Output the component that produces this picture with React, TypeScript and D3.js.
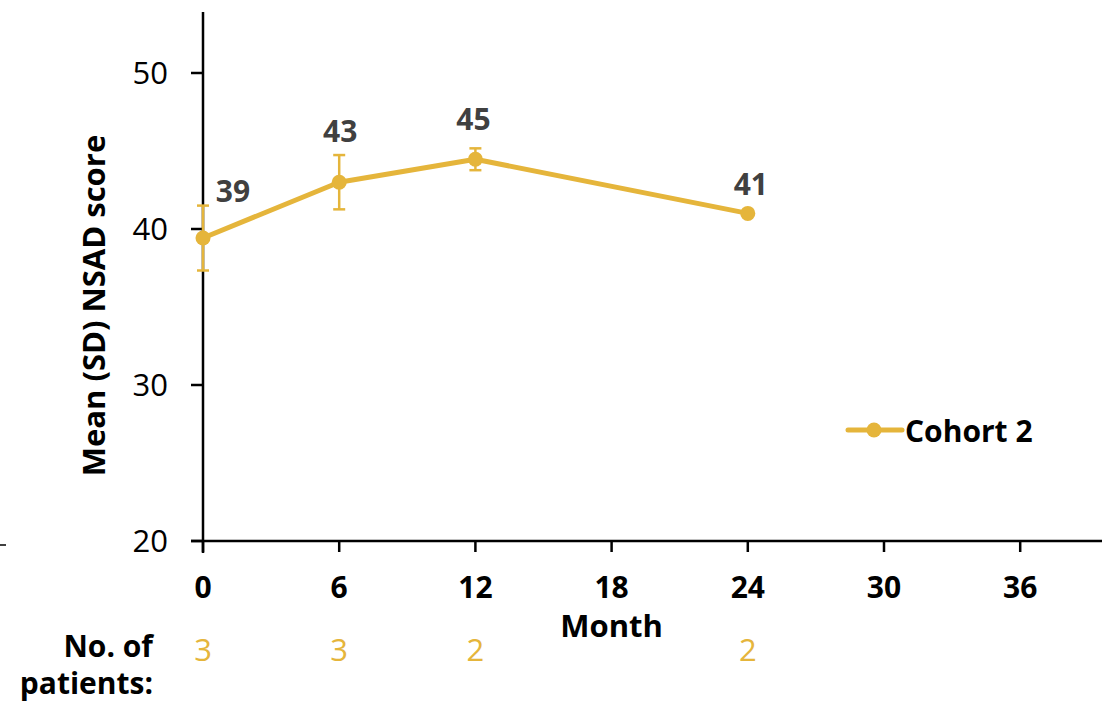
import React from "react";
import * as d3 from "d3";

// NSAD score over time, Cohort 2
const months = [0, 6, 12, 24];
const meanScores = [39.42, 43.0, 44.47, 41.0];
const sdScores = [2.08, 1.74, 0.7, 0];
const valueLabels = ["39", "43", "45", "41"];
const patientCounts = [3, 3, 2, 2];
const xTicks = [0, 6, 12, 18, 24, 30, 36];
const yTicks = [20, 30, 40, 50];
const seriesName = "Cohort 2";

const W = 1102;
const H = 703;
const GOLD = "#E5B53B";
const FONT = "'Open Sans', 'Noto Sans', sans-serif";

export default function App() {
  const x = d3.scaleLinear().domain([0, 6]).range([203, 339.2]);
  const y = d3.scaleLinear().domain([20, 50]).range([541, 73]);
  const pts = months.map((m, i) => ({ m, v: meanScores[i], sd: sdScores[i], lab: valueLabels[i], n: patientCounts[i] }));
  const line = d3
    .line<{ m: number; v: number }>()
    .x((d) => x(d.m))
    .y((d) => y(d.v));

  // label placement relative to each marker
  const labelOffsets = [
    { dx: 30, dy: -36 },
    { dx: 1, dy: -40 },
    { dx: -2, dy: -29 },
    { dx: 3, dy: -18 },
  ];

  return (
    <svg
      width={W}
      height={H}
      style={{ position: "absolute", left: 0, top: 0, background: "#fff" }}
      fontFamily={FONT}
    >
      {/* stray dash at left edge */}
      <line x1={0} x2={6} y1={545} y2={545} stroke="#000" strokeWidth={1.5} />

      {/* y axis */}
      <line x1={x(0)} x2={x(0)} y1={12} y2={y(20) + 12} stroke="#000" strokeWidth={2.5} />
      {yTicks.map((t) => (
        <g key={t}>
          <line x1={x(0) - 12} x2={x(0)} y1={y(t)} y2={y(t)} stroke="#000" strokeWidth={2.5} />
          <text x={168} y={y(t) + 11} textAnchor="end" fontSize={31} fill="#000">
            {t}
          </text>
        </g>
      ))}

      {/* x axis */}
      <line x1={x(0) - 12} x2={W} y1={y(20)} y2={y(20)} stroke="#000" strokeWidth={2.5} />
      {xTicks.map((t) => (
        <g key={t}>
          <line x1={x(t)} x2={x(t)} y1={y(20)} y2={y(20) + 11} stroke="#000" strokeWidth={2.5} />
          <text x={x(t)} y={598} textAnchor="middle" fontSize={30} fontWeight="bold" fill="#000">
            {t}
          </text>
        </g>
      ))}
      <text x={x(18)} y={637} textAnchor="middle" fontSize={31} fontWeight="bold" fill="#000">
        Month
      </text>

      {/* y axis title */}
      <text
        transform={`translate(105, 305.5) rotate(-90)`}
        textAnchor="middle"
        fontSize={31}
        fontWeight="bold"
        fill="#000"
      >
        Mean (SD) NSAD score
      </text>

      {/* series line */}
      <path d={line(pts) || ""} fill="none" stroke={GOLD} strokeWidth={5} strokeLinejoin="round" />

      {/* error bars */}
      {pts
        .filter((p) => p.sd > 0)
        .map((p) => (
          <g key={`e${p.m}`} stroke={GOLD} strokeWidth={2.5}>
            <line x1={x(p.m)} x2={x(p.m)} y1={y(p.v + p.sd)} y2={y(p.v - p.sd)} />
            <line x1={x(p.m) - 6} x2={x(p.m) + 6} y1={y(p.v + p.sd)} y2={y(p.v + p.sd)} />
            <line x1={x(p.m) - 6} x2={x(p.m) + 6} y1={y(p.v - p.sd)} y2={y(p.v - p.sd)} />
          </g>
        ))}

      {/* markers */}
      {pts.map((p) => (
        <circle key={`c${p.m}`} cx={x(p.m)} cy={y(p.v)} r={7.5} fill={GOLD} />
      ))}

      {/* value labels */}
      {pts.map((p, i) => (
        <text
          key={`l${p.m}`}
          x={x(p.m) + labelOffsets[i].dx}
          y={y(p.v) + labelOffsets[i].dy}
          textAnchor="middle"
          fontSize={30}
          fontWeight="bold"
          fill="#404040"
        >
          {p.lab}
        </text>
      ))}

      {/* legend */}
      <line x1={848} x2={902} y1={430} y2={430} stroke={GOLD} strokeWidth={5} strokeLinecap="round" />
      <circle cx={874} cy={430} r={7.5} fill={GOLD} />
      <text x={905} y={442} fontSize={30} fontWeight="bold" fill="#000">
        {seriesName}
      </text>

      {/* patient counts */}
      <text x={153} y={657} textAnchor="end" fontSize={30} fontWeight="bold" fill="#000">
        No. of
      </text>
      <text x={153} y={694} textAnchor="end" fontSize={30} fontWeight="bold" fill="#000">
        patients:
      </text>
      {pts.map((p) => (
        <text key={`n${p.m}`} x={x(p.m)} y={661} textAnchor="middle" fontSize={31} fill={GOLD}>
          {p.n}
        </text>
      ))}
    </svg>
  );
}
